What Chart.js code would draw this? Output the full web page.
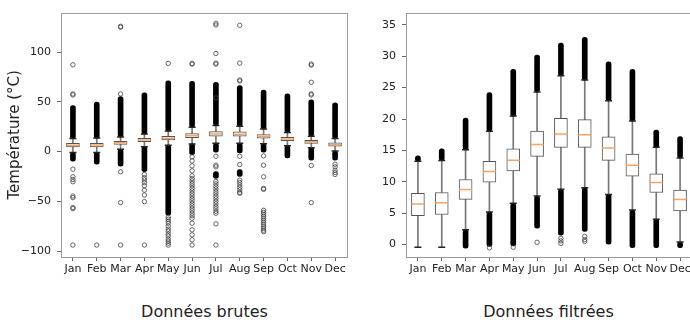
<!DOCTYPE html>
<html lang="fr">
<head>
<meta charset="UTF-8">
<title>Températures mensuelles</title>
<script src="https://cdn.jsdelivr.net/npm/chart.js@4.4.0/dist/chart.umd.min.js"></script>
<style>
    html, body { margin: 0; padding: 0; width: 690px; height: 320px; overflow: hidden; background: #fff; }
    .panel { position: absolute; top: 0; }
    .caption {
        position: absolute;
        top: 303px;
        font: 16px 'DejaVu Sans', sans-serif;
        line-height: 18px;
        color: #222;
        white-space: nowrap;
        transform: translateX(-50%);
    }
</style>
</head>
<body>

<canvas id="rawChart" class="panel" style="left:0" width="355" height="280"></canvas>
<canvas id="filteredChart" class="panel" style="left:345px" width="355" height="280"></canvas>
<div class="caption" style="left:204.5px">Données brutes</div>
<div class="caption" style="left:548.5px">Données filtrées</div>

<script>
    const months = ['Jan', 'Feb', 'Mar', 'Apr', 'May', 'Jun', 'Jul', 'Aug', 'Sep', 'Oct', 'Nov', 'Dec'];

    // Raw data (left panel)
    const rawQ1  = [4.6, 4.7, 7.2, 10.0, 11.7, 14.0, 15.5, 15.5, 13.4, 10.9, 8.3, 5.4];
    const rawMed = [6.4, 6.6, 8.8, 11.6, 13.4, 16.0, 17.6, 17.5, 15.4, 12.6, 9.9, 7.2];
    const rawQ3  = [8.2, 8.3, 10.4, 13.3, 15.3, 18.1, 20.1, 19.9, 17.2, 14.4, 11.3, 8.7];
    const rawLo  = [-0.8, -0.8, 2.3, 5.0, 6.5, 7.7, 8.3, 8.3, 7.8, 5.8, 4.0, 0.6];
    const rawHi  = [13.2, 13.6, 14.8, 17.6, 20.6, 24.6, 26.3, 25.5, 22.8, 19.2, 15.4, 13.2];
    const rawDenseUp   = [46.3, 49.7, 55.3, 59.0, 71.3, 70.7, 69.7, 66.3, 62.0, 58.0, 52.0, 49.0];
    const rawDenseDown = [-9.7, -12.7, -14.7, -20.3, -64.0, -3.0, -0.5, -1.3, -0.5, -6.3, -8.7, -8.7];
    const rawDenseExtra = [null, null, null, null, null, null, [-27, -20], [-25, -18], null, null, null, null];
    const rawFliers = [
        [87.3, 58, 57, -17.7, -25.3, -28, -30.3, -44.7, -46.3, -56.3, -57.3, -94],
        [-94],
        [126, 125, 58, -20.3, -51.3, -94],
        [-23, -26.3, -28.5, -31.3, -34.3, -38.7, -43.7, -50.3, -94],
        [88.7, -66, -68, -70, -72, -75, -78, -80, -83, -85, -88, -90, -92, -94],
        [88.7, 88, -5.3, -9.3, -14.3, -19.3, -24.3, -27, -29.5, -32, -34.5, -37, -39.5, -42, -44.5, -47, -49.5, -52, -54.5, -57, -59.5, -62, -64.5, -67, -72, -78.7, -83.7, -88.7, -94],
        [54, 88, 89, 98.7, 127.3, 129, -4.7, -13.7, -15.3, -30, -32.5, -35, -37.5, -40, -42.5, -45, -47.5, -50, -52.5, -55, -57.5, -60, -62, -72.7, -94],
        [71, 72, 89, 127, -4.7, -13, -28.7, -31, -33.5, -36, -38.5, -41, -42],
        [-4.3, -13.7, -25.3, -37, -38, -59, -61, -63, -65, -67, -69, -71, -73, -75, -77, -79, -80.5],
        [],
        [57, 58, 69.7, 87, 88, -14, -51.3],
        [-12.7, -15.3, -18.7, -21, -23]
    ];

    // Filtered data (right panel)
    const filtQ1  = [4.63, 4.8, 7.21, 9.95, 11.74, 14.05, 15.5, 15.5, 13.42, 10.9, 8.3, 5.37];
    const filtMed = [6.47, 6.68, 8.79, 11.63, 13.42, 15.95, 17.6, 17.5, 15.37, 12.63, 9.9, 7.2];
    const filtQ3  = [8.16, 8.3, 10.37, 13.26, 15.26, 18.1, 20.1, 19.9, 17.16, 14.4, 11.26, 8.68];
    const filtLo  = [-0.42, -0.42, 2.37, 5.2, 6.58, 7.74, 8.8, 9.05, 8.0, 5.5, 4.05, 0.42];
    const filtHi  = [13.26, 13.4, 15.1, 18.05, 20.47, 24.3, 26.9, 26.2, 22.9, 19.7, 15.5, 13.8];
    const filtDenseUp   = [14.16, 15.26, 20.16, 24.2, 27.9, 30.2, 32.1, 33.0, 29.1, 27.9, 18.26, 17.2];
    const filtDenseDown = [null, null, -0.58, -0.3, -0.2, 2.63, 1.5, 2.1, 0.0, -0.5, -0.5, -0.5];
    const filtDenseExtra = [null, null, null, null, null, null, null, null, null, null, null, null];
    const filtFliers = [[], [], [], [-0.5], [-0.42], [0.37], [1.0, 0.6, 0.2], [1.3, 0.8, 0.5], [], [], [], []];

    const rawTicks = [-100, -50, 0, 50, 100];
    const filtTicks = [0, 5, 10, 15, 20, 25, 30, 35];

    Chart.defaults.font.family = "'DejaVu Sans', sans-serif";
    Chart.defaults.color = '#222';

    // matplotlib-like frame around the plot area
    const frame = {
        id: 'frame',
        afterDatasetsDraw(chart) {
            const a = chart.chartArea, ctx = chart.ctx;
            ctx.save();
            ctx.strokeStyle = '#9a9a9a';
            ctx.lineWidth = 1;
            ctx.strokeRect(Math.round(a.left) + 0.5, Math.round(a.top) + 0.5,
                Math.round(a.right - a.left), Math.round(a.bottom - a.top));
            ctx.restore();
        }
    };

    function points(values) {
        return values.map((v, i) => ({ x: months[i], y: v }));
    }
    function flierPoints(lists) {
        return lists.flatMap((list, i) => list.map(v => ({ x: months[i], y: v })));
    }
    function span(a, b) {
        return a.map((v, i) => (v == null || b[i] == null) ? null : [v, b[i]]);
    }

    function boxChart(canvasId, s, yMin, yMax, yTicks, yTitle) {
        const bar = (data, color, thickness, order, extra) => Object.assign({
            type: 'bar', data: data, backgroundColor: color, barThickness: thickness,
            grouped: false, borderSkipped: false, order: order
        }, extra || {});
        const marks = (data, style, radius, color, width, order, fill) => ({
            type: 'line', data: data, showLine: false, pointStyle: style,
            pointRadius: radius, pointBorderColor: color, pointBorderWidth: width,
            pointBackgroundColor: fill || 'rgba(0,0,0,0)', borderColor: color, order: order
        });

        return new Chart(document.getElementById(canvasId), {
            data: {
                labels: months,
                datasets: [
                    marks(points(s.med), 'line', 6.5, '#f6a463', 1.5, 0),
                    marks(points(s.hi).concat(points(s.lo)), 'line', 3.5, '#222', 1.5, 1),
                    bar(span(s.q1, s.q3), '#fff', 13, 2, { borderColor: '#555', borderWidth: 1 }),
                    marks(flierPoints(s.fliers), 'circle', 2.2, '#444', 0.8, 3),
                    bar(span(s.hi, s.denseUp), '#000', 5, 4, { borderRadius: 2.5 }),
                    bar(span(s.denseDown, s.lo), '#000', 5, 4, { borderRadius: 2.5 }),
                    bar(s.denseExtra, '#000', 5, 4, { borderRadius: 2.5 }),
                    bar(span(s.q3, s.hi), '#777', 1, 5),
                    bar(span(s.lo, s.q1), '#777', 1, 5)
                ]
            },
            options: {
                responsive: false,
                animation: false,
                devicePixelRatio: 1,
                layout: { padding: { top: 12, right: 7, left: 0, bottom: 0 } },
                plugins: { legend: { display: false }, tooltip: { enabled: false } },
                scales: {
                    x: {
                        type: 'category',
                        offset: true,
                        grid: { offset: false, drawOnChartArea: false, tickLength: 4, color: '#666' },
                        border: { display: false },
                        ticks: { autoSkip: false, maxRotation: 0, padding: 2, font: { size: 11 }, color: '#222' },
                        afterFit: (scale) => { scale.height = 23; }
                    },
                    y: {
                        min: yMin,
                        max: yMax,
                        grid: { drawOnChartArea: false, tickLength: 4, color: '#666' },
                        border: { display: false },
                        afterBuildTicks: (scale) => { scale.ticks = yTicks.map(v => ({ value: v })); },
                        ticks: {
                            padding: 6,
                            font: { size: 11 },
                            color: '#222',
                            callback: (v) => String(v).replace('-', '\u2212')
                        },
                        title: {
                            display: !!yTitle,
                            text: yTitle || '',
                            font: { size: 15 },
                            color: '#222',
                            padding: { top: 6, bottom: 0 }
                        },
                        afterFit: (scale) => { scale.width = 61; }
                    }
                }
            },
            plugins: [frame]
        });
    }

    boxChart('rawChart', {
        q1: rawQ1, med: rawMed, q3: rawQ3, lo: rawLo, hi: rawHi,
        denseUp: rawDenseUp, denseDown: rawDenseDown, denseExtra: rawDenseExtra, fliers: rawFliers
    }, -106, 139.8, rawTicks, 'Température (°C)');

    boxChart('filteredChart', {
        q1: filtQ1, med: filtMed, q3: filtQ3, lo: filtLo, hi: filtHi,
        denseUp: filtDenseUp, denseDown: filtDenseDown, denseExtra: filtDenseExtra, fliers: filtFliers
    }, -1.97, 36.95, filtTicks, null);
</script>
</body>
</html>
